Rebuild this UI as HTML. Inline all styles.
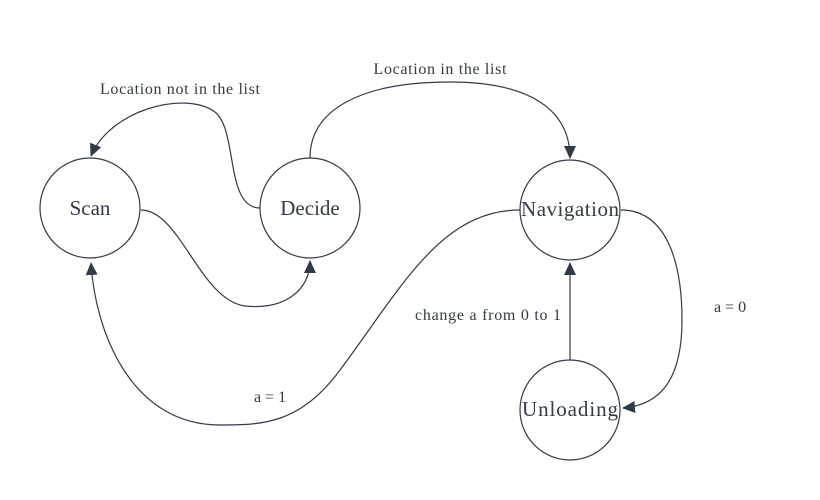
<!DOCTYPE html>
<html><head><style>body{margin:0;background:#fff}svg{display:block}text{font-family:"Liberation Serif","DejaVu Serif",serif}</style></head><body>
<svg width="820" height="500" viewBox="0 0 820 500" xmlns="http://www.w3.org/2000/svg" fill="#333a47" font-family="Liberation Serif, serif">
<defs><marker id="a" markerWidth="14" markerHeight="14" refX="12" refY="6" orient="auto" markerUnits="userSpaceOnUse"><path d="M0,0 L13,6 L0,12 Z" fill="#333a47"/></marker></defs>
<g fill="none" stroke="#333a47" stroke-width="1.2">
<circle cx="90" cy="208" r="50"/>
<circle cx="310" cy="208" r="50"/>
<circle cx="570" cy="210" r="50"/>
<circle cx="570" cy="410" r="50"/>
<path d="M260,208 C225,208 238,130 215,112 C185,90 110,110 91,156" marker-end="url(#a)"/>
<path d="M310,158 C310,110 360,82 450,82 C530,82 570,110 570,158" marker-end="url(#a)"/>
<path d="M141,210 C180,210 200,300 245,306 C285,310 310,290 310,261" marker-end="url(#a)"/>
<path d="M520,210 C440,210 400,290 340,370 C300,425 260,425 220,425 C130,425 95,330 91,263" marker-end="url(#a)"/>
<path d="M621,210 C670,210 682,270 682,320 C682,380 660,405 623,408" marker-end="url(#a)"/>
<path d="M570,360 L570,263" marker-end="url(#a)"/>
</g>
<g font-size="16">
<text x="180" y="94" text-anchor="middle" textLength="160">Location not in the list</text>
<text x="440" y="74" text-anchor="middle" textLength="133">Location in the list</text>
<text x="488" y="320" text-anchor="middle" textLength="146">change a from 0 to 1</text>
<text x="730" y="312" text-anchor="middle">a = 0</text>
<text x="270" y="402" text-anchor="middle">a = 1</text>
</g>
<g font-size="21" text-anchor="middle">
<text x="90" y="215">Scan</text>
<text x="310" y="215">Decide</text>
<text x="570" y="216" textLength="98">Navigation</text>
<text x="570" y="416" textLength="96">Unloading</text>
</g>
</svg>
</body></html>
